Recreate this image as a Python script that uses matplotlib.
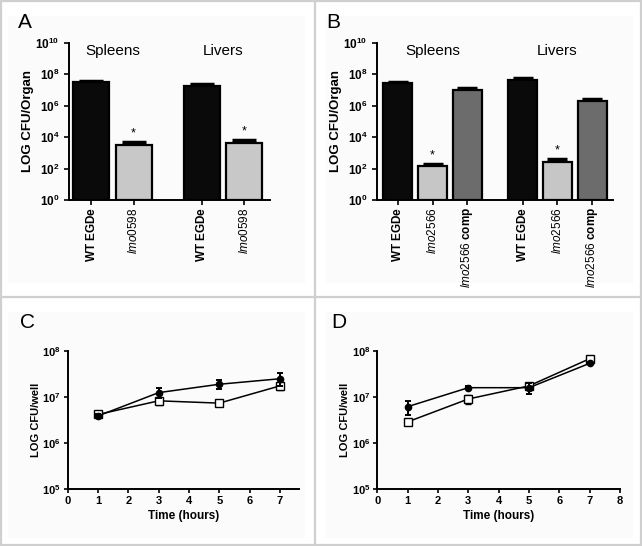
import numpy as np
import matplotlib
matplotlib.use("Agg")
import matplotlib.pyplot as plt
from matplotlib.lines import Line2D

plt.rcParams['font.family'] = ['Liberation Sans', 'DejaVu Sans']
plt.rcParams['mathtext.fontset'] = 'custom'
plt.rcParams['mathtext.rm'] = 'Liberation Sans'
plt.rcParams['mathtext.it'] = 'Liberation Sans:italic'
plt.rcParams['mathtext.bf'] = 'Liberation Sans:bold'

# ---- panel A: CFU per organ, WT vs lmo0598 ----
a_labels = [r'$\mathbf{WT\ EGDe}$', r'$\mathit{lmo0598}$',
            r'$\mathbf{WT\ EGDe}$', r'$\mathit{lmo0598}$']
a_values = [3.1e7, 3.2e3, 1.7e7, 4.5e3]
a_err = [0.6e7, 1.8e3, 0.6e7, 2.3e3]
a_colors = ['#0a0a0a', '#c8c8c8', '#0a0a0a', '#c8c8c8']
a_star = [False, True, False, True]

# ---- panel B: CFU per organ, WT vs lmo2566 vs complement ----
b_labels = [r'$\mathbf{WT\ EGDe}$', r'$\mathit{lmo2566}$', r'$\mathit{lmo2566}\ \mathbf{comp}$',
            r'$\mathbf{WT\ EGDe}$', r'$\mathit{lmo2566}$', r'$\mathit{lmo2566}\ \mathbf{comp}$']
b_values = [2.9e7, 1.5e2, 9.4e6, 4.4e7, 2.7e2, 1.96e6]
b_err = [0.4e7, 0.6e2, 3.8e6, 1.6e7, 1.6e2, 0.7e6]
b_colors = ['#0a0a0a', '#c6c6c6', '#6c6c6c', '#0a0a0a', '#c6c6c6', '#6c6c6c']
b_star = [False, True, False, False, True, False]

groups = ['Spleens', 'Livers']

# ---- panels C / D: growth in wells ----
hours = [1, 3, 5, 7]
c_filled = [3.9e6, 1.25e7, 1.9e7, 2.5e7]
c_filled_err = [4.5e5, 3.0e6, 4.0e6, 8.0e6]
c_open = [4.2e6, 8.3e6, 7.4e6, 1.75e7]
c_open_err = [5.0e5, 1.5e6, 3.0e5, 3.0e6]

d_filled = [6.2e6, 1.6e7, 1.6e7, 5.4e7]
d_filled_err = [2.2e6, 1.0e6, 4.5e6, 3.0e6]
d_open = [2.9e6, 9.1e6, 1.75e7, 6.8e7]
d_open_err = [2.0e5, 2.0e6, 3.0e6, 1.1e7]

fig = plt.figure(figsize=(6.42, 5.46), dpi=100)
fig.patch.set_facecolor('white')

# faint panel backgrounds
for x0, y0, w, h in [(8, 16, 296, 266), (326, 16, 306, 266), (8, 312, 296, 225), (326, 312, 306, 225)]:
    fig.add_artist(plt.Rectangle((x0 / 642, 1 - (y0 + h) / 546), w / 642, h / 546,
                                 transform=fig.transFigure, color='#fbfbfb', zorder=-5))

# frame lines of the composite figure
for xs, ys in [([0.002, 0.002], [0, 1]), ([0.998, 0.998], [0, 1]),
               ([0, 1], [0.998, 0.998]), ([0, 1], [0.002, 0.002]),
               ([315 / 642, 315 / 642], [0, 1]), ([0, 1], [1 - 297 / 546, 1 - 297 / 546])]:
    fig.add_artist(Line2D(xs, ys, color='#cfcfcf', lw=1.6))


def style_axes(ax):
    for s in ['top', 'right']:
        ax.spines[s].set_visible(False)
    for s in ['left', 'bottom']:
        ax.spines[s].set_linewidth(1.4)
    ax.set_facecolor('none')
    ax.tick_params(width=1.2, length=3.5)


def bar_panel(ax, pos, values, err, colors, stars, labels, width, capsize):
    ax.bar(pos, values, width=width, color=colors, edgecolor='black', linewidth=1.6,
           bottom=1, zorder=2)
    ax.errorbar(pos, values, yerr=[np.zeros(len(values)), err], fmt='none',
                ecolor='black', elinewidth=1.6, capsize=capsize, capthick=2.5, zorder=1)
    for p, v, e, s in zip(pos, values, err, stars):
        if s:
            ax.text(p, (v + e) * 1.4, '*', ha='center', va='bottom', fontsize=9)
    ax.set_yscale('log')
    ax.set_ylim(1, 1e10)
    ax.set_yticks([10.0 ** k for k in range(0, 11, 2)])
    ax.set_yticklabels([r'$\mathbf{10^{%d}}$' % k for k in range(0, 11, 2)], fontsize=8.5)
    ax.minorticks_off()
    ax.set_xticks(pos)
    ax.set_xticklabels(labels, rotation=90, fontsize=8.5)
    ax.set_ylabel('LOG CFU/Organ', fontsize=9.5, fontweight='bold', labelpad=1)
    style_axes(ax)
    ax.tick_params(axis='x', pad=1.5)


# panel A
axA = fig.add_axes([69 / 642, 1 - 200.3 / 546, (270 - 69) / 642, 157.6 / 546])
posA = np.array([0, 1, 2.6, 3.6])
bar_panel(axA, posA, a_values, a_err, a_colors, a_star, a_labels, 0.85, 8.5)
axA.set_xlim(-0.52, 4.21)
for g, cx in zip(groups, [0.5, 3.1]):
    axA.text(cx, 0.947, g, transform=axA.get_xaxis_transform(), ha='center', va='center', fontsize=11)
fig.text(18 / 642, 1 - 23 / 546, 'A', fontsize=15, va='center', ha='left')

# panel B
axB = fig.add_axes([377 / 642, 1 - 200.3 / 546, (613 - 377) / 642, 157.6 / 546])
posB = np.array([0, 1, 2, 3.6, 4.6, 5.6])
bar_panel(axB, posB, b_values, b_err, b_colors, b_star, b_labels, 0.84, 7)
axB.set_xlim(-0.6, 6.2)
for g, cx in zip(groups, [1, 4.6]):
    axB.text(cx, 0.947, g, transform=axB.get_xaxis_transform(), ha='center', va='center', fontsize=11)
fig.text(326 / 642, 1 - 23 / 546, 'B', fontsize=15, va='center', ha='left')


def line_panel(ax, filled, filled_err, opened, opened_err, xmax, xticks):
    ax.errorbar(hours, opened, yerr=opened_err, color='black', lw=1.1, marker='s', ms=5.5,
                mfc='white', mec='black', mew=1.0, capsize=2.2, elinewidth=1.4, capthick=1.4, zorder=2)
    ax.errorbar(hours, filled, yerr=filled_err, color='black', lw=1.1, marker='o', ms=4.5,
                mfc='black', mec='black', capsize=2.2, elinewidth=1.4, capthick=1.4, zorder=3)
    ax.set_yscale('log')
    ax.set_ylim(1e5, 1e8)
    ax.set_yticks([1e5, 1e6, 1e7, 1e8])
    ax.set_yticklabels([r'$\mathbf{10^{%d}}$' % k for k in range(5, 9)], fontsize=8)
    ax.minorticks_off()
    ax.set_xlim(0, xmax)
    ax.set_xticks(xticks)
    ax.set_xticklabels([str(t) for t in xticks], fontsize=8, fontweight='bold')
    ax.set_xlabel('Time (hours)', fontsize=8.5, fontweight='bold', labelpad=3)
    ax.set_ylabel('LOG CFU/well', fontsize=8, fontweight='bold', labelpad=1)
    style_axes(ax)
    ax.tick_params(length=3, pad=2)


axC = fig.add_axes([67.7 / 642, 1 - 489.3 / 546, (299 - 67.7) / 642, 138.3 / 546])
line_panel(axC, c_filled, c_filled_err, c_open, c_open_err, 7.63, list(range(0, 8)))
fig.text(20 / 642, 1 - 323 / 546, 'C', fontsize=15, va='center', ha='left')

axD = fig.add_axes([377.3 / 642, 1 - 489.3 / 546, (620 - 377.3) / 642, 138.3 / 546])
line_panel(axD, d_filled, d_filled_err, d_open, d_open_err, 8, list(range(0, 9)))
fig.text(331 / 642, 1 - 323 / 546, 'D', fontsize=15, va='center', ha='left')

fig.savefig('out.png', dpi=100, facecolor='white')
